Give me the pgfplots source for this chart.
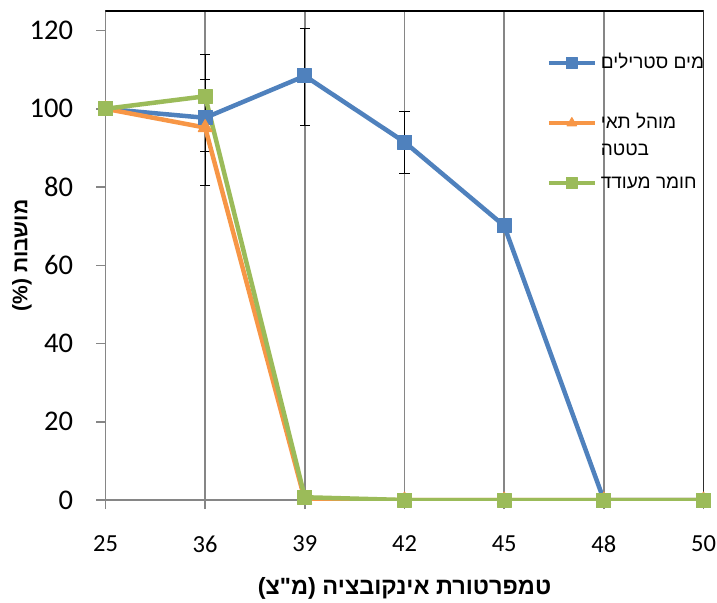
\documentclass[border=0pt]{standalone}
\usepackage{fontspec}
\setmainfont{Liberation Sans}
\newfontfamily\heb[Script=Hebrew]{Liberation Sans}
\newfontfamily\calib{Carlito}
\usepackage{pgfplots}
\pgfplotsset{compat=1.18}
\TeXXeTstate=1
\definecolor{cblue}{HTML}{4F81BD}
\definecolor{corange}{HTML}{F79646}
\definecolor{cgreen}{HTML}{9BBB59}
\definecolor{gridgray}{HTML}{868686}
\begin{document}
\begin{tikzpicture}
\begin{axis}[
  scale only axis, width=598bp, height=489bp,
  xmin=0, xmax=6, ymin=0, ymax=125,
  xtick={0,1,2,3,4,5,6}, xticklabels={25,36,39,42,45,48,50},
  ytick={0,20,40,60,80,100,120},
  axis line style={gridgray, line width=1.5bp},
  tick style={gridgray, line width=1.5bp},
  tick align=outside, major tick length=9bp,
  xtick pos=bottom, ytick pos=left,
  xmajorgrids, grid style={gridgray, line width=1.5bp},
  /pgf/number format/assume math mode=true,
  xticklabel style={font=\calib\fontsize{24.5bp}{28bp}\selectfont, yshift=-23bp},
  yticklabel style={font=\calib\fontsize{28.5bp}{32bp}\selectfont, xshift=-20bp},
  xlabel={\heb\bfseries\fontsize{23.5bp}{26bp}\selectfont\beginR טמפרטורת אינקובציה (מ"צ)\endR},
  xlabel style={at={(axis description cs:0.5,0)}, anchor=base, yshift=-94bp},
  ylabel={\heb\bfseries\fontsize{21bp}{24bp}\selectfont\beginR מושבות (\%)\endR},
  ylabel style={at={(axis description cs:-0.1396,0.5)}, anchor=center},
  legend style={at={(axis description cs:0.738,0.916)}, anchor=north west, draw=none, fill=none,
    inner sep=0pt, outer sep=0pt, row sep=0pt, column sep=4bp,
    nodes={inner sep=0pt, text height=16bp, text depth=44bp, font=\heb\fontsize{19bp}{27bp}\selectfont}},
  legend cell align=left,
  legend image code/.code={%
    \draw[mark repeat=2,mark phase=2,#1] plot coordinates {(0bp,19bp) (23bp,19bp) (46bp,19bp)};},
  legend image post style={line width=4bp, mark size=5.5bp},
]
% error bars (blue series)
\addplot[forget plot, black, line width=1.3bp, only marks, mark=none,
  error bars/.cd, y dir=both, y explicit,
  error bar style={black, line width=1.3bp, mark size=5bp}]
  coordinates {(1,97.2) +- (0,16.8) (1,98.4) +- (0,9.2) (2,108.2) +- (0,12.3) (3,91.4) +- (0,7.9)};
\addplot[cblue, line width=4.5bp, line join=round, mark=square*, mark size=7bp, mark options={solid, fill=cblue, line width=1pt}]
  coordinates {(0,100) (1,97.7) (2,108.4) (3,91.5) (4,70.1) (5,0) (6,0)};
\addlegendentry{\beginR מים סטרילים\endR}
\addplot[corange, line width=4.5bp, line join=round, mark=triangle*, mark size=8bp, mark options={solid, fill=corange, line width=1pt}]
  coordinates {(0,100) (1,95.2) (2,0) (3,0) (4,0) (5,0) (6,0)};
\addlegendentry{\vtop{\hbox{\beginR מוהל תאי\endR}\hbox{\beginR בטטה\endR}}}
\addplot[cgreen, line width=4.5bp, line join=round, mark=square*, mark size=7bp, mark options={solid, fill=cgreen, line width=1pt}]
  coordinates {(0,100) (1,103.2) (2,0.7) (3,0) (4,0) (5,0) (6,0)};
\addlegendentry{\beginR חומר מעודד\endR}
\draw[black, line width=2bp] (rel axis cs:0,1) -- (rel axis cs:1,1) -- (rel axis cs:1,0);
\end{axis}
\pgfresetboundingbox
\path (-105.5bp,-103bp) rectangle (611.5bp,500bp);
\end{tikzpicture}
\end{document}
